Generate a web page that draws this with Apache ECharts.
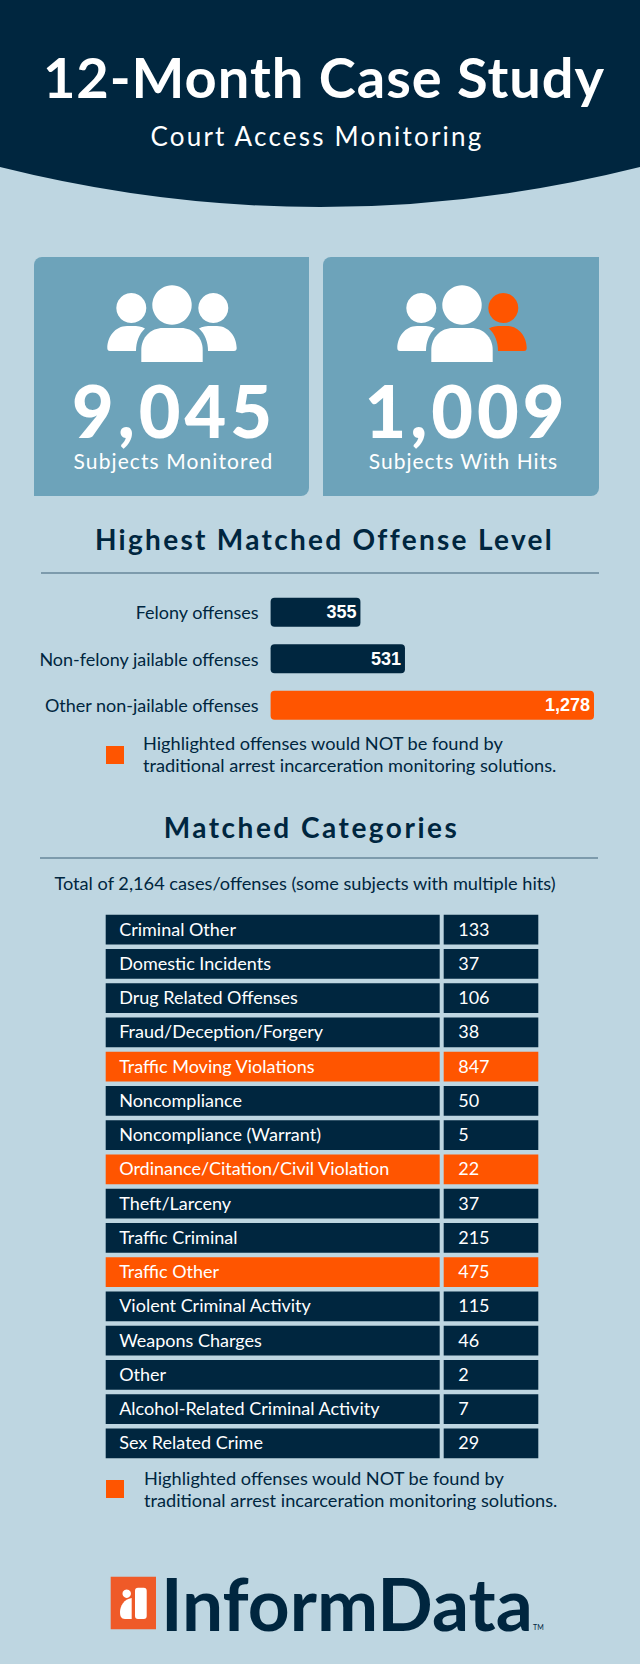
<!DOCTYPE html>
<html>
<head>
<meta charset="UTF-8"/>
<title>12-Month Case Study</title>
<script src="https://cdn.jsdelivr.net/npm/echarts@6/dist/echarts.min.js"></script>
<style>
  html, body { margin: 0; padding: 0; background: #bed6e1; }
  #main { width: 640px; height: 1664px; }
</style>
</head>
<body>
<div id="main"></div>
<script>
// stat cards
var statValues = ['9,045', '1,009'];
var statLabels = ['Subjects Monitored', 'Subjects With Hits'];

// highest matched offense level
var offenseLevels = ['Felony offenses', 'Non-felony jailable offenses', 'Other non-jailable offenses'];
var offenseCounts = [355, 531, 1278];
var highlightedOffenses = ['Other non-jailable offenses'];

// matched categories
var categories = ['Criminal Other', 'Domestic Incidents', 'Drug Related Offenses', 'Fraud/Deception/Forgery',
  'Traffic Moving Violations', 'Noncompliance', 'Noncompliance (Warrant)', 'Ordinance/Citation/Civil Violation',
  'Theft/Larceny', 'Traffic Criminal', 'Traffic Other', 'Violent Criminal Activity', 'Weapons Charges', 'Other',
  'Alcohol-Related Criminal Activity', 'Sex Related Crime'];
var categoryCounts = [133, 37, 106, 38, 847, 50, 5, 22, 37, 215, 475, 115, 46, 2, 7, 29];
var highlightedCategories = ['Traffic Moving Violations', 'Ordinance/Citation/Civil Violation', 'Traffic Other'];

var NAVY = '#00263f', ORANGE = '#ff5500', CARD = '#6da3ba', RULE = '#3c6079', FONT = 'Lato';
var note = ['Highlighted offenses would NOT be found by', 'traditional arrest incarceration monitoring solutions.'];

// zrender has no letter spacing, so it is set on the svg text nodes after drawing
var spacing = {};

function txt(text, x, y, font, fill, align, gap) {
  if (gap) spacing[text] = gap;
  return { type: 'text', silent: true, style: { text: text, x: x, y: y, font: font + ' ' + FONT, fill: fill, textAlign: align || 'left', textVerticalAlign: 'middle' } };
}
function box(x, y, w, h, fill, r) {
  return { type: 'rect', silent: true, shape: { x: x, y: y, width: w, height: h, r: r || 0 }, style: { fill: fill } };
}
function blob(d, fill) {
  return { type: 'path', silent: true, shape: { pathData: d, layout: 'none' }, style: { fill: fill } };
}
function dot(cx, cy, r, fill) {
  return { type: 'circle', silent: true, shape: { cx: cx, cy: cy, r: r }, style: { fill: fill } };
}

// three people icon, dx shifts it into the second card
function people(dx, rightColor) {
  var x = function (v) { return v + dx; };
  return [
    dot(x(172), 305, 19.7, '#fff'),
    dot(x(131.3), 308, 15, '#fff'),
    dot(x(213.3), 308, 15, rightColor),
    blob('M' + x(141.3) + ' 362V350C' + x(141.3) + ' 337 ' + x(151) + ' 328 ' + x(163) + ' 328H' + x(181) + 'C' + x(193) + ' 328 ' + x(202.7) + ' 337 ' + x(202.7) + ' 350V362Z', '#fff'),
    blob('M' + x(145) + ' 328.5C' + x(141) + ' 325.5 ' + x(134) + ' 326 ' + x(127) + ' 326C' + x(115) + ' 326 ' + x(107.3) + ' 337 ' + x(107.3) + ' 348Q' + x(107.3) + ' 351 ' + x(110) + ' 351H' + x(136) + 'C' + x(136) + ' 342 ' + x(139) + ' 334 ' + x(145) + ' 328.5Z', '#fff'),
    blob('M' + x(199) + ' 328.5C' + x(203) + ' 325.5 ' + x(210) + ' 326 ' + x(217) + ' 326C' + x(229) + ' 326 ' + x(236.7) + ' 337 ' + x(236.7) + ' 348Q' + x(236.7) + ' 351 ' + x(234) + ' 351H' + x(208) + 'C' + x(208) + ' 342 ' + x(205) + ' 334 ' + x(199) + ' 328.5Z', rightColor)
  ];
}

var decorations = [
  blob('M0 0H640V167Q320 247 0 167Z', NAVY),
  txt('12-Month Case Study', 324, 76.5, 'bold 56px', '#fff', 'center', 0.95),
  txt('Court Access Monitoring', 317, 136, '26px', '#fff', 'center', 2.2),

  box(34, 257, 275, 239, CARD, [8, 0, 8, 0]),
  box(323, 257, 276, 239, CARD, [8, 0, 8, 0]),
  txt(statValues[0], 174, 410, '900 72px', '#fff', 'center', 4),
  txt(statLabels[0], 173.5, 460, '21px', '#fff', 'center', 1.1),
  txt(statValues[1], 466.5, 410, '900 72px', '#fff', 'center', 4),
  txt(statLabels[1], 463.5, 460, '21px', '#fff', 'center', 1),

  txt('Highest Matched Offense Level', 324.5, 539, 'bold 28px', NAVY, 'center', 2.3),
  box(41, 572.5, 558, 1, RULE),
  box(106, 746, 18, 18, ORANGE),
  txt(note[0], 143, 743, '18.2px', NAVY),
  txt(note[1], 143, 765, '18.2px', NAVY),

  txt('Matched Categories', 311.5, 827, 'bold 28px', NAVY, 'center', 2.5),
  box(40, 857.5, 558, 1, RULE),
  txt('Total of 2,164 cases/offenses (some subjects with multiple hits)', 305, 883, '18.2px', NAVY, 'center'),

  box(106, 1480, 18, 18, ORANGE),
  txt(note[0], 144, 1478, '18.2px', NAVY),
  txt(note[1], 144, 1500, '18.2px', NAVY),

  // logo
  box(110.7, 1576.7, 45.3, 52.6, '#ef5a28'),
  dot(126.7, 1593.7, 4.2, '#fff'),
  blob('M131.7 1598V1619H125C121 1619 120 1616 120 1612C120 1606 124 1599 131.7 1598Z', '#fff'),
  box(135, 1587.7, 11.7, 31.3, '#fff', 3),
  txt('InformData', 161, 1603, 'bold 73px', NAVY),
  txt('TM', 533, 1627, '7px', NAVY)
].concat(people(0, '#fff'), people(290, ORANGE));

var chart = echarts.init(document.getElementById('main'), null, { renderer: 'svg' });

chart.setOption({
  animation: false,
  backgroundColor: '#bed6e1',
  grid: [
    { left: 270.6, top: 589, width: 323.4, height: 139.5 },
    { left: 105.7, top: 912.4, width: 432.6, height: 548 }
  ],
  xAxis: [
    { gridIndex: 0, type: 'value', min: 0, max: 1278, show: false },
    { gridIndex: 1, type: 'value', min: 0, max: 1, show: false }
  ],
  yAxis: [
    {
      gridIndex: 0, type: 'category', inverse: true, data: offenseLevels,
      axisLine: { show: false }, axisTick: { show: false },
      axisLabel: { color: NAVY, fontFamily: FONT, fontSize: 18, margin: 12 }
    },
    { gridIndex: 1, type: 'category', inverse: true, data: categories, show: false }
  ],
  series: [
    {
      // everything around the chart: header, cards, icons, headings, notes, logo
      type: 'custom', coordinateSystem: 'none', z: 1, silent: true,
      data: [0],
      renderItem: function () {
        return { type: 'group', children: decorations };
      }
    },
    {
      type: 'bar', xAxisIndex: 0, yAxisIndex: 0, barWidth: 29, z: 3,
      data: offenseCounts.map(function (v, i) {
        return { value: v, itemStyle: { color: highlightedOffenses.indexOf(offenseLevels[i]) >= 0 ? ORANGE : NAVY, borderRadius: 4 } };
      }),
      label: {
        show: true, position: 'insideRight', distance: 4, color: '#fff',
        fontFamily: 'Liberation Sans', fontWeight: 'bold', fontSize: 18,
        formatter: function (p) { return p.value.toLocaleString('en-US'); }
      }
    },
    {
      type: 'custom', xAxisIndex: 1, yAxisIndex: 1, z: 3,
      data: categoryCounts,
      renderItem: function (params, api) {
        var i = params.dataIndex;
        var cs = params.coordSys;
        var cy = api.coord([0, i])[1] - 1;
        var h = 29.7;
        var fill = highlightedCategories.indexOf(categories[i]) >= 0 ? ORANGE : NAVY;
        var split = cs.x + 334;
        return {
          type: 'group',
          children: [
            { type: 'rect', shape: { x: cs.x, y: cy + 1 - h / 2, width: 334, height: h }, style: { fill: fill } },
            { type: 'rect', shape: { x: split + 4, y: cy + 1 - h / 2, width: cs.width - 338, height: h }, style: { fill: fill } },
            { type: 'text', style: { text: categories[i], x: cs.x + 13.5, y: cy, fill: '#fff', font: '18px ' + FONT, textVerticalAlign: 'middle' } },
            { type: 'text', style: { text: String(categoryCounts[i]), x: split + 18.5, y: cy, fill: '#fff', font: '18px ' + FONT, textVerticalAlign: 'middle' } }
          ]
        };
      }
    }
  ]
});

function applySpacing() {
  document.querySelectorAll('#main svg text').forEach(function (node) {
    var gap = spacing[node.textContent];
    if (gap) node.setAttribute('letter-spacing', gap);
  });
}
chart.on('finished', applySpacing);
applySpacing();
</script>
</body>
</html>
